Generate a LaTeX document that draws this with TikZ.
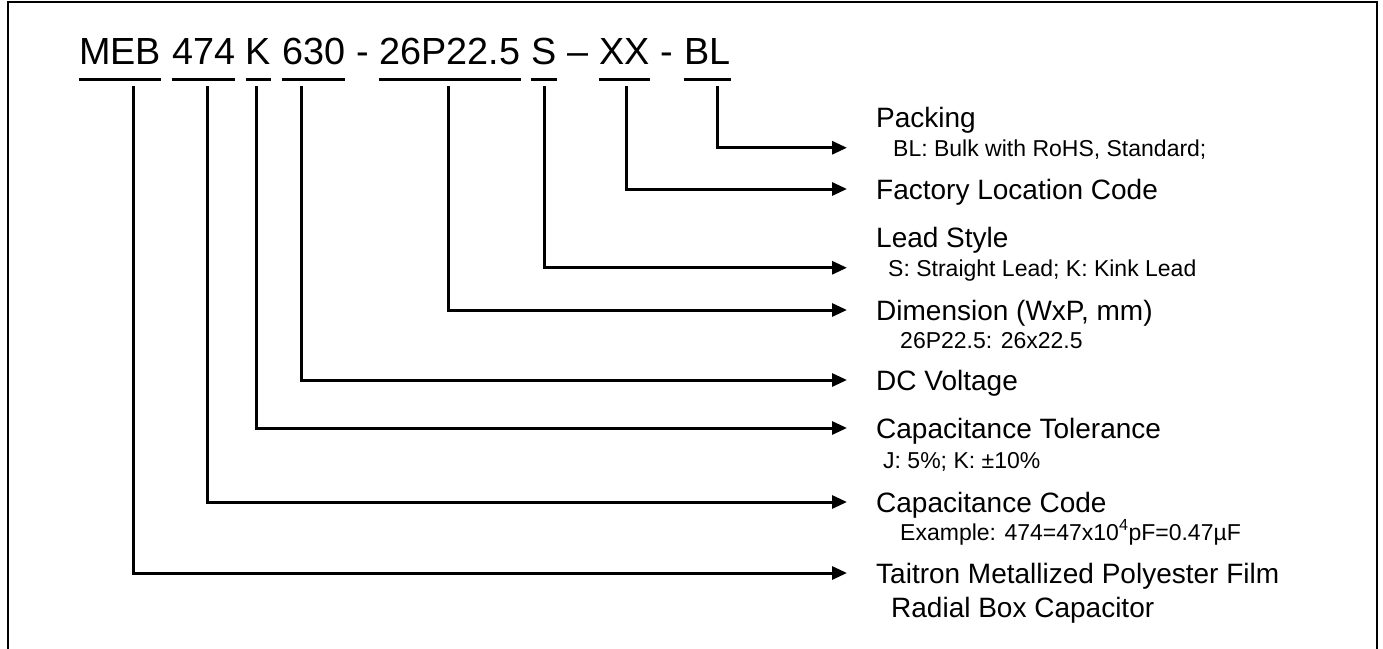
\documentclass[tikz,border=0pt]{standalone}
\usepackage{fontspec}
\setmainfont{Liberation Sans}
\usetikzlibrary{arrows.meta,calc}
\newlength\spw
\setlength\spw{10.5pt}
\begin{document}
\begin{tikzpicture}[x=1pt,y=-1pt,
  ttl/.style={inner sep=0pt, anchor=base west, font=\fontsize{37.8}{44}\selectfont},
  ul/.style={line width=3pt},
  conn/.style={line width=3pt, -{Triangle[length=15pt,width=13pt]}},
  mainlab/.style={inner sep=0pt, anchor=base west, font=\fontsize{28}{33}\selectfont, text height=20pt, text depth=0pt},
  sublab/.style={inner sep=0pt, anchor=base west, font=\fontsize{23}{27}\selectfont, text height=16.5pt, text depth=0pt},
  frame/.style={line width=2pt}]
\useasboundingbox (0,0) rectangle (1383,648);
\draw[frame] (8,650) -- (8,2) -- (1377,2) -- (1377,650);
% title
\node[ttl] (meb) at (79,64) {MEB};
\node[ttl] (c474) at ([xshift=\spw]meb.base east) {474};
\node[ttl] (ck) at ([xshift=\spw]c474.base east) {K};
\node[ttl] (c630) at ([xshift=\spw]ck.base east) {630};
\node[ttl] (d1) at ([xshift=\spw]c630.base east) {-};
\node[ttl] (cdim) at ([xshift=\spw]d1.base east) {26P22.5};
\node[ttl] (cs) at ([xshift=\spw]cdim.base east) {S};
\node[ttl] (d2) at ([xshift=\spw]cs.base east) {–};
\node[ttl] (cxx) at ([xshift=\spw]d2.base east) {XX};
\node[ttl] (d3) at ([xshift=\spw]cxx.base east) {-};
\node[ttl] (cbl) at ([xshift=\spw]d3.base east) {BL};
\foreach \n in {meb,c474,ck,c630,cdim,cs,cxx,cbl}
  \draw[ul] ([yshift=-15pt]\n.base west) -- ([yshift=-15pt]\n.base east);
% labels
\node[mainlab] (lpack) at (876,127) {Packing};
\node[sublab] (spack) at (893,156) {BL: Bulk with RoHS, Standard;};
\node[mainlab] (lfac) at (876,199) {Factory Location Code};
\node[mainlab] (llead) at (876,247) {Lead Style};
\node[sublab] (slead) at (888,276) {S: Straight Lead; K: Kink Lead};
\node[mainlab] (ldim) at (876,320) {Dimension (WxP, mm)};
\node[sublab] (sdim) at (900,348) {26P22.5: 26x22.5};
\node[mainlab] (ldc) at (876,390) {DC Voltage};
\node[mainlab] (ltol) at (876,438) {Capacitance Tolerance};
\node[sublab] (stol) at (883,468) {J: 5\%; K: ±10\%};
\node[mainlab] (lcap) at (876,512) {Capacitance Code};
\node[sublab] (scap) at (900,540) {Example: 474=47x10\textsuperscript{4}pF=0.47µF};
\node[mainlab] (ltai) at (876,583) {Taitron Metallized Polyester Film};
\node[mainlab] (ltai2) at (891,617) {Radial Box Capacitor};
% connectors
\draw[conn, shorten >=46pt] ($(cbl.base west)!0.71!(cbl.base east)+(0,22)$) |- (spack.west);
\draw[conn, shorten >=29pt] ($(cxx.base west)!0.53!(cxx.base east)+(0,22)$) |- (lfac.west);
\draw[conn, shorten >=41pt] ($(cs.base west)!0.52!(cs.base east)+(0,22)$) |- (slead.west);
\draw[conn, shorten >=29pt] ($(cdim.base west)!0.49!(cdim.base east)+(0,22)$) |- (ldim.west);
\draw[conn, shorten >=29pt] ($(c630.base west)!0.31!(c630.base east)+(0,22)$) |- (ldc.west);
\draw[conn, shorten >=29pt] ($(ck.base west)!0.40!(ck.base east)+(0,22)$) |- (ltol.west);
\draw[conn, shorten >=29pt] ($(c474.base west)!0.56!(c474.base east)+(0,22)$) |- (lcap.west);
\draw[conn, shorten >=29pt] ($(meb.base west)!0.66!(meb.base east)+(0,22)$) |- (ltai.west);
\end{tikzpicture}
\end{document}
